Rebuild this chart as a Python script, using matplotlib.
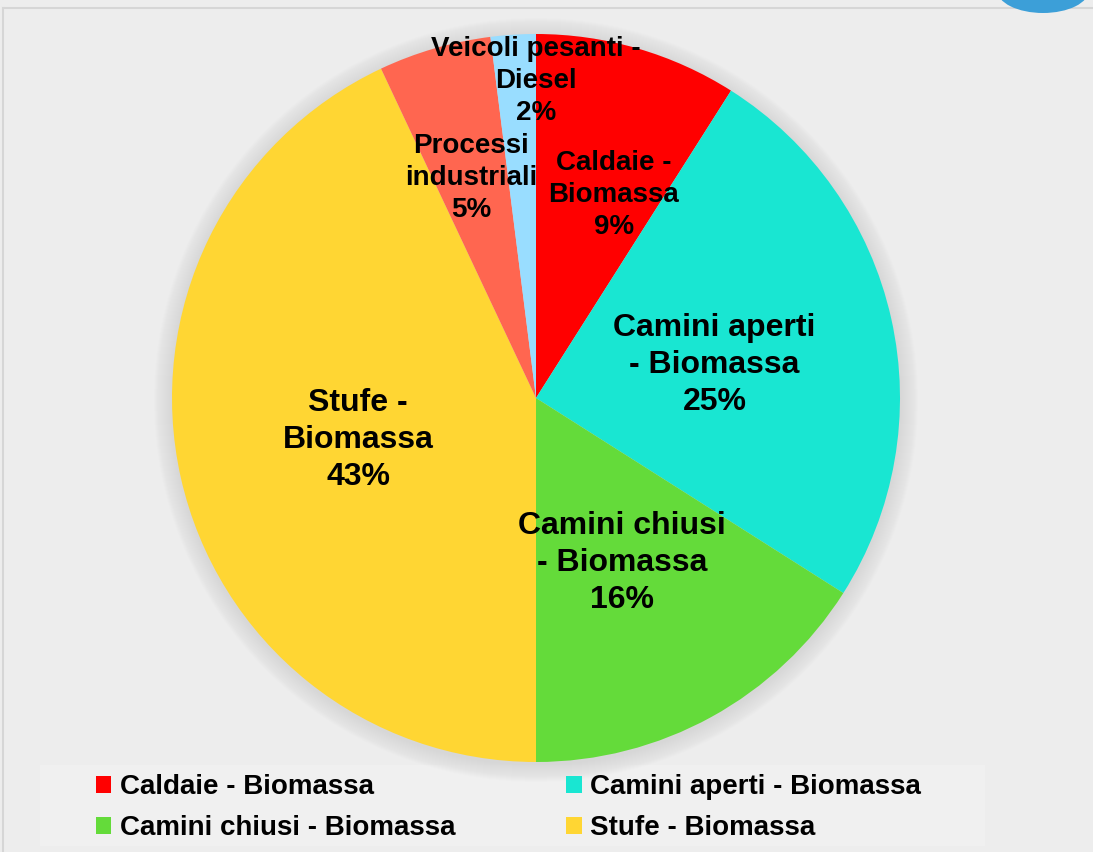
import numpy as np
import matplotlib
matplotlib.use("Agg")
import matplotlib.pyplot as plt
from matplotlib.patches import Circle, Rectangle, Ellipse

plt.rcParams['font.family'] = ['Liberation Sans', 'DejaVu Sans']
plt.rcParams['font.weight'] = 'bold'

# data (shares in %)
categories = ["Caldaie - Biomassa", "Camini aperti - Biomassa", "Camini chiusi - Biomassa",
              "Stufe - Biomassa", "Processi industriali", "Veicoli pesanti - Diesel"]
pie_labels = ["Caldaie -\nBiomassa", "Camini aperti\n- Biomassa", "Camini chiusi\n- Biomassa",
              "Stufe -\nBiomassa", "Processi\nindustriali", "Veicoli pesanti -\nDiesel"]
values = [9, 25, 16, 43, 5, 2]
colors = ["#FF0000", "#19E6D2", "#64DB3A", "#FFD633", "#FF6650", "#99DDFF"]
legend_order = [0, 2, 1, 3]  # only four entries visible, filled row by row

# layout (pixel units, y up)
W, H = 1093, 852
cx, cy, R = 536, 454, 364
label_r = [0.605, 0.50, 0.503, 0.50, 0.638, 0.88]
label_dang = [-4.5, -1.2, -0.8, -0.2, 0.0, -3.6]
label_size = [20, 23, 23, 23, 20, 20]

fig = plt.figure(figsize=(W / 100, H / 100), dpi=100)
fig.patch.set_facecolor("#EDEDED")
ax = fig.add_axes([0, 0, 1, 1])

# soft shadow around the pie
for i in range(18):
    ax.add_patch(Circle((cx, cy - 2), R + 18 - i, color="#909090", alpha=0.012,
                        lw=0, zorder=1))

wedges, _ = ax.pie(values, colors=colors, startangle=90, counterclock=False,
                   center=(cx, cy), radius=R,
                   wedgeprops=dict(linewidth=0, zorder=2))

total = sum(values)
start = 90.0
for i, (lab, v) in enumerate(zip(pie_labels, values)):
    mid = start - v / total * 360 / 2 + label_dang[i]
    start -= v / total * 360
    x = cx + label_r[i] * R * np.cos(np.radians(mid))
    y = cy + label_r[i] * R * np.sin(np.radians(mid)) - 3
    ax.text(x, y, f"{lab}\n{v}%", ha="center", va="center", fontsize=label_size[i],
            fontweight="bold", linespacing=1.3, zorder=5)

# frame lines and decorative logo
ax.plot([3, W], [H - 8, H - 8], color="#D6D6D6", lw=1.5, zorder=0)
ax.plot([3, 3], [0, H - 8], color="#D6D6D6", lw=1.5, zorder=0)
ax.add_patch(Ellipse((1043, H + 10), 92, 46, color="#3C9FD8", lw=0, zorder=0))

# legend background
ax.add_patch(Rectangle((40, H - 846), 945, 81, facecolor="#F0F0F0", edgecolor="none", zorder=0))
ax.legend([wedges[i] for i in legend_order], [categories[i] for i in legend_order],
          ncol=2, frameon=False, loc="upper left",
          bbox_to_anchor=(96, H - 774), bbox_transform=ax.transData,
          prop=dict(size=20, weight="bold"), handlelength=0.55, handleheight=0.55,
          handletextpad=0.3, columnspacing=4.0, labelspacing=0.55,
          borderpad=0, borderaxespad=0)

ax.set_xlim(0, W)
ax.set_ylim(0, H)
ax.set_aspect("auto")
ax.axis("off")

fig.savefig("out.png", dpi=100, facecolor=fig.get_facecolor())
